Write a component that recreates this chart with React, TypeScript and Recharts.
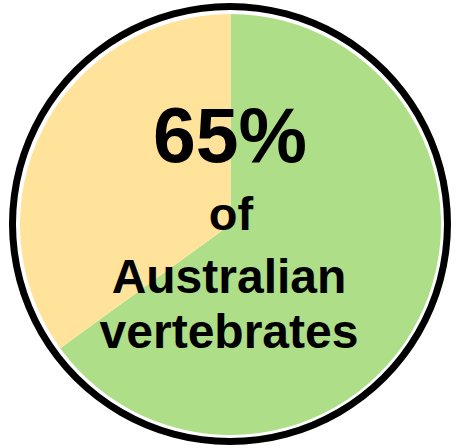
import { PieChart, Pie, Cell } from 'recharts';

const categories = ['Australian vertebrates', 'Other'];
const shares = [65, 35];
const colors = ['#AEDF88', '#FFE39B'];
const headline = '65%';
const captionLines = ['of', 'Australian', 'vertebrates'];

const data = categories.map((name, i) => ({ name, value: shares[i] }));
const ring = [{ name: 'outline', value: 1 }];

const font = '"Liberation Sans", Arial, sans-serif';

// centre text sits on its own svg layer, on top of the pie
function CenterText() {
  return (
    <svg
      width={462}
      height={448}
      style={{ position: 'absolute', left: 0, top: 0, pointerEvents: 'none' }}
    >
      <text x={230} y={162} textAnchor="middle" fontFamily={font} fontWeight="bold" fontSize={77} fill="#000">
        {headline}
      </text>
      <text x={231} y={230} textAnchor="middle" fontFamily={font} fontWeight="bold" fontSize={47} fill="#000">
        {captionLines[0]}
      </text>
      <text x={229} y={293} textAnchor="middle" fontFamily={font} fontWeight="bold" fontSize={48} fill="#000">
        {captionLines[1]}
      </text>
      <text x={229} y={348} textAnchor="middle" fontFamily={font} fontWeight="bold" fontSize={48} fill="#000">
        {captionLines[2]}
      </text>
    </svg>
  );
}

export default function App() {
  return (
    <div style={{ position: 'absolute', left: 0, top: 0, width: 462, height: 448, background: '#fff' }}>
      <PieChart width={462} height={448} margin={{ top: 0, right: 0, bottom: 0, left: 0 }}>
        <Pie
          data={ring}
          dataKey="value"
          cx={230}
          cy={224}
          innerRadius={214}
          outerRadius={221}
          startAngle={90}
          endAngle={-270}
          stroke="none"
          fill="#000"
          isAnimationActive={false}
        />
        <Pie
          data={data}
          dataKey="value"
          cx={230.5}
          cy={224.5}
          outerRadius={210.5}
          startAngle={90}
          endAngle={-270}
          stroke="none"
          isAnimationActive={false}
        >
          {data.map((d, i) => (
            <Cell key={d.name} fill={colors[i]} />
          ))}
        </Pie>
      </PieChart>
      <CenterText />
    </div>
  );
}
